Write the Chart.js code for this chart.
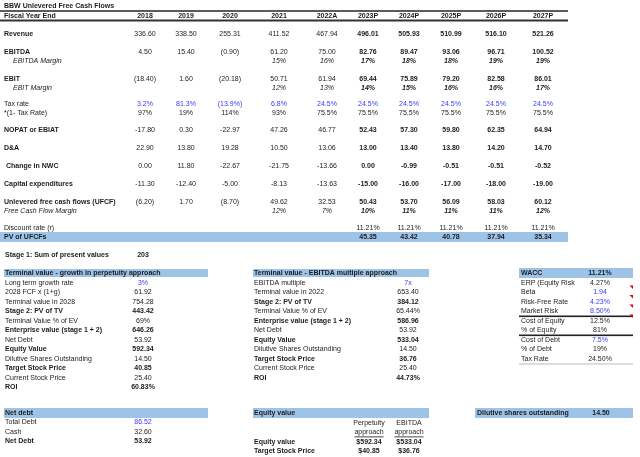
<!DOCTYPE html>
<html>
<head>
<meta charset="utf-8">
<script src="https://cdn.jsdelivr.net/npm/chart.js@4.4.0/dist/chart.umd.min.js"></script>
<style>
  html, body { margin:0; padding:0; background:#fff; }
  #wrap { width:640px; height:457px; }
</style>
</head>
<body>
<div id="wrap"><canvas id="sheet"></canvas></div>
<script>
// ---- data ----
const years = ['2018','2019','2020','2021','2022A','2023P','2024P','2025P','2026P','2027P'];
const revenue = [336.60, 338.50, 255.31, 411.52, 467.94, 496.01, 505.93, 510.99, 516.10, 521.26];
const ebitda = [4.50, 15.40, -0.90, 61.20, 75.00, 82.76, 89.47, 93.06, 96.71, 100.52];
const ebitdaMargin = [null, null, null, 15, 16, 17, 18, 18, 19, 19];
const ebit = [-18.40, 1.60, -20.18, 50.71, 61.94, 69.44, 75.89, 79.20, 82.58, 86.01];
const ebitMargin = [null, null, null, 12, 13, 14, 15, 16, 16, 17];
const taxRate = [3.2, 81.3, -13.9, 6.8, 24.5, 24.5, 24.5, 24.5, 24.5, 24.5];
const oneMinusTax = [97, 19, 114, 93, 75.5, 75.5, 75.5, 75.5, 75.5, 75.5];
const nopat = [-17.80, 0.30, -22.97, 47.26, 46.77, 52.43, 57.30, 59.80, 62.35, 64.94];
const dna = [22.90, 13.80, 19.28, 10.50, 13.06, 13.00, 13.40, 13.80, 14.20, 14.70];
const changeNwc = [0.00, 11.80, -22.67, -21.75, -13.66, 0.00, -0.99, -0.51, -0.51, -0.52];
const capex = [-11.30, -12.40, -5.00, -8.13, -13.63, -15.00, -16.00, -17.00, -18.00, -19.00];
const ufcf = [-6.20, 1.70, -8.70, 49.62, 32.53, 50.43, 53.70, 56.09, 58.03, 60.12];
const fcfMargin = [null, null, null, 12, 7, 10, 11, 11, 11, 12];
const discountRate = [null, null, null, null, null, 11.21, 11.21, 11.21, 11.21, 11.21];
const pvUfcf = [null, null, null, null, null, 45.35, 43.42, 40.78, 37.94, 35.34];

const stage1Label = 'Stage 1: Sum of present values';
const stage1Value = '203';

const growthLabels = ['Long term growth rate', '2028 FCF x (1+g)', 'Terminal value in 2028', 'Stage 2: PV of TV',
  'Terminal Value % of EV', 'Enterprise value (stage 1 + 2)', 'Net Debt', 'Equity Value',
  'Dilutive Shares Outstanding', 'Target Stock Price', 'Current Stock Price', 'ROI'];
const growthValues = ['3%', '61.92', '754.28', '443.42', '69%', '646.26', '53.92', '592.34', '14.50', '40.85', '25.40', '60.83%'];
const growthBold = [0,0,0,1,0,1,0,1,0,1,0,1];
const growthBlue = [1,0,0,0,0,0,0,0,0,0,0,0];

const multLabels = ['EBITDA multiple', 'Terminal value in 2022', 'Stage 2: PV of TV', 'Terminal Value % of EV',
  'Enterprise value (stage 1 + 2)', 'Net Debt', 'Equity Value', 'Dilutive Shares Outstanding',
  'Target Stock Price', 'Current Stock Price', 'ROI'];
const multValues = ['7x', '653.40', '384.12', '65.44%', '586.96', '53.92', '533.04', '14.50', '36.76', '25.40', '44.73%'];
const multBold = [0,0,1,0,1,0,1,0,1,0,1];
const multBlue = [1,0,0,0,0,0,0,0,0,0,0];

const waccLabels = ['ERP (Equity Risk', 'Beta', 'Risk-Free Rate', 'Market Risk', 'Cost of Equity', '% of Equity', 'Cost of Debt', '% of Debt', 'Tax Rate'];
const waccValues = ['4.27%', '1.94', '4.23%', '8.50%', '12.5%', '81%', '7.5%', '19%', '24.50%'];
const waccBlue = [0,1,1,1,0,0,1,0,0];
const waccTotal = '11.21%';

const netDebtLabels = ['Total Debt', 'Cash', 'Net Debt'];
const netDebtValues = ['86.52', '32.60', '53.92'];

const equityCols = ['Perpetuity', 'EBITDA'];
const equityRowLabels = ['Equity value', 'Target Stock Price'];
const equityPerp = ['$592.34', '$40.85'];
const equityEbitda = ['$533.04', '$36.76'];

const dilutiveLabel = 'Dilutive shares outstanding';
const dilutiveValue = '14.50';

// ---- formatting ----
const f2 = v => v.toFixed(2);
const p2 = v => v < 0 ? '(' + Math.abs(v).toFixed(2) + ')' : v.toFixed(2);
const pct = v => v + '%';
const pctP = v => v < 0 ? '(' + Math.abs(v).toFixed(1) + '%)' : v.toFixed(1) + '%';
const pctM = v => (v % 1 === 0 ? v : v.toFixed(1)) + '%';
const pct2 = v => v.toFixed(2) + '%';

// ---- layout (scale units == sheet pixels) ----
const FONT = "'Liberation Sans Narrow', 'Liberation Sans', Arial, sans-serif";
const SIZE = 7;
const INK = '#1c1c1c';
const BLUE = '#3a3aff';
const BAND = '#9dc3e6';
const colX = [145, 186, 230, 279, 327, 368, 409, 451, 496, 543];

const topRows = [
  { label:'Revenue', y:34, data:revenue, fmt:f2, bold:1, projBold:1 },
  { label:'EBITDA', y:52, data:ebitda, fmt:p2, bold:1, projBold:1 },
  { label:'EBITDA Margin', y:61, data:ebitdaMargin, fmt:pct, italic:1, indent:9, projBold:1 },
  { label:'EBIT', y:79, data:ebit, fmt:p2, bold:1, projBold:1 },
  { label:'EBIT Margin', y:88, data:ebitMargin, fmt:pct, italic:1, indent:9, projBold:1 },
  { label:'Tax rate', y:104, data:taxRate, fmt:pctP, blue:1 },
  { label:'*(1- Tax Rate)', y:113, data:oneMinusTax, fmt:pctM },
  { label:'NOPAT or EBIAT', y:130, data:nopat, fmt:f2, bold:1, projBold:1 },
  { label:'D&A', y:148, data:dna, fmt:f2, bold:1, projBold:1 },
  { label:' Change in NWC', y:166, data:changeNwc, fmt:f2, bold:1, projBold:1 },
  { label:'Capital expenditures', y:184, data:capex, fmt:f2, bold:1, projBold:1 },
  { label:'Unlevered free cash flows (UFCF)', y:202, data:ufcf, fmt:p2, bold:1, projBold:1 },
  { label:'Free Cash Flow Margin', y:211, data:fcfMargin, fmt:pct, italic:1, projBold:1 },
  { label:'Discount rate (r)', y:228, data:discountRate, fmt:pct2 },
  { label:'PV of UFCFs', y:237, data:pvUfcf, fmt:f2, bold:1, projBold:1, allBold:1 }
];

const bands = [
  [0, 232, 568, 242], [4, 269, 208, 277], [253, 269, 429, 277], [519, 268, 633, 278],
  [4, 408, 208, 418], [253, 408, 429, 418], [475, 408, 633, 418]
];

const sheetPlugin = {
  id: 'sheet',
  afterDraw(chart) {
    const ctx = chart.ctx;
    const sx = chart.scales.x, sy = chart.scales.y;
    const X = v => sx.getPixelForValue(v), Y = v => sy.getPixelForValue(v);

    function txt(s, x, y, o) {
      o = o || {};
      ctx.font = (o.italic ? 'italic ' : '') + (o.bold ? 'bold ' : '') + SIZE + 'px ' + FONT;
      ctx.fillStyle = o.blue ? BLUE : INK;
      ctx.textAlign = o.align || 'left';
      ctx.textBaseline = 'middle';
      ctx.fillText(s, X(x), Y(y));
      if (o.underline) {
        const w = ctx.measureText(s).width;
        const x0 = o.align === 'center' ? X(x) - w / 2 : X(x);
        ctx.fillRect(x0, Y(y) + 4, w, 0.8);
      }
    }
    function hline(x0, x1, y, w, c) {
      ctx.fillStyle = c;
      ctx.fillRect(X(x0), Y(y) - w / 2, X(x1) - X(x0), w);
    }

    ctx.save();
    // header bands
    bands.forEach(b => {
      ctx.fillStyle = BAND;
      ctx.fillRect(X(b[0]), Y(b[1]), X(b[2]) - X(b[0]), Y(b[3]) - Y(b[1]));
    });

    // title + header rule
    txt('BBW Unlevered Free Cash Flows', 4, 6, { bold:1 });
    hline(0, 568, 11, 1.6, '#333');
    txt('Fiscal Year End', 4, 16, { bold:1 });
    years.forEach((yr, i) => txt(yr, colX[i], 16, { bold:1, align:'center' }));
    hline(0, 568, 20.5, 2, '#333');

    topRows.forEach(r => {
      txt(r.label, 4 + (r.indent || 0), r.y, { bold:r.bold, italic:r.italic });
      r.data.forEach((v, i) => {
        if (v === null) return;
        const b = r.allBold || (r.projBold && i >= 5);
        txt(r.fmt(v), colX[i], r.y, { bold:b, italic:r.italic, blue:r.blue, align:'center' });
      });
    });

    txt(stage1Label, 5, 255, { bold:1 });
    txt(stage1Value, 143, 255, { bold:1, align:'center' });

    // terminal value - growth
    txt('Terminal value - growth in perpetuity approach', 5, 273, { bold:1 });
    growthLabels.forEach((l, i) => {
      const y = 283 + i * 9.5;
      txt(l, 5, y, { bold:growthBold[i] });
      txt(growthValues[i], 143, y, { bold:growthBold[i], blue:growthBlue[i], align:'center' });
    });

    // terminal value - multiple
    txt('Terminal value - EBITDA multiple approach', 254, 273, { bold:1 });
    multLabels.forEach((l, i) => {
      const y = 283 + i * 9.5;
      txt(l, 254, y, { bold:multBold[i] });
      txt(multValues[i], 408, y, { bold:multBold[i], blue:multBlue[i], align:'center' });
    });

    // WACC box
    txt('WACC', 521, 273, { bold:1 });
    txt(waccTotal, 600, 273, { bold:1, align:'center' });
    waccLabels.forEach((l, i) => {
      const y = 283 + i * 9.5;
      txt(l, 521, y);
      txt(waccValues[i], 600, y, { blue:waccBlue[i], align:'center' });
    });
    hline(519, 633, 316.3, 1.6, '#222');
    hline(519, 633, 335.3, 1.6, '#222');
    hline(519, 633, 364, 1, '#bbb');
    ctx.fillStyle = '#e00000';
    [287, 296.5, 306, 316].forEach(y => {
      ctx.beginPath();
      ctx.moveTo(X(629.5), Y(y - 1.5));
      ctx.lineTo(X(633), Y(y - 1.5));
      ctx.lineTo(X(633), Y(y + 2));
      ctx.closePath();
      ctx.fill();
    });

    // net debt
    txt('Net debt', 5, 413, { bold:1 });
    netDebtLabels.forEach((l, i) => {
      const y = 422.5 + i * 9.5;
      txt(l, 5, y, { bold:i === 2 });
      txt(netDebtValues[i], 143, y, { bold:i === 2, blue:i === 0, align:'center' });
    });

    // equity value
    txt('Equity value', 254, 413, { bold:1 });
    const eqX = [369, 409];
    equityCols.forEach((c, i) => {
      txt(c, eqX[i], 423, { align:'center' });
      txt('approach', eqX[i], 432.5, { align:'center', underline:1 });
    });
    equityRowLabels.forEach((l, i) => {
      const y = 442 + i * 9.5;
      txt(l, 254, y, { bold:1 });
      txt(equityPerp[i], eqX[0], y, { bold:1, align:'center' });
      txt(equityEbitda[i], eqX[1], y, { bold:1, align:'center' });
    });

    // dilutive shares
    txt(dilutiveLabel, 477, 413, { bold:1 });
    txt(dilutiveValue, 601, 413, { bold:1, align:'center' });
    ctx.restore();
  }
};

new Chart(document.getElementById('sheet'), {
  type: 'scatter',
  data: { datasets: [{ data: [], pointRadius: 0 }] },
  options: {
    responsive: true,
    maintainAspectRatio: false,
    animation: false,
    devicePixelRatio: 1,
    layout: { padding: 0 },
    plugins: { legend: { display:false }, tooltip: { enabled:false } },
    scales: {
      x: { type:'linear', min:0, max:640, display:false },
      y: { type:'linear', min:0, max:457, reverse:true, display:false }
    }
  },
  plugins: [sheetPlugin]
});
</script>
</body>
</html>
